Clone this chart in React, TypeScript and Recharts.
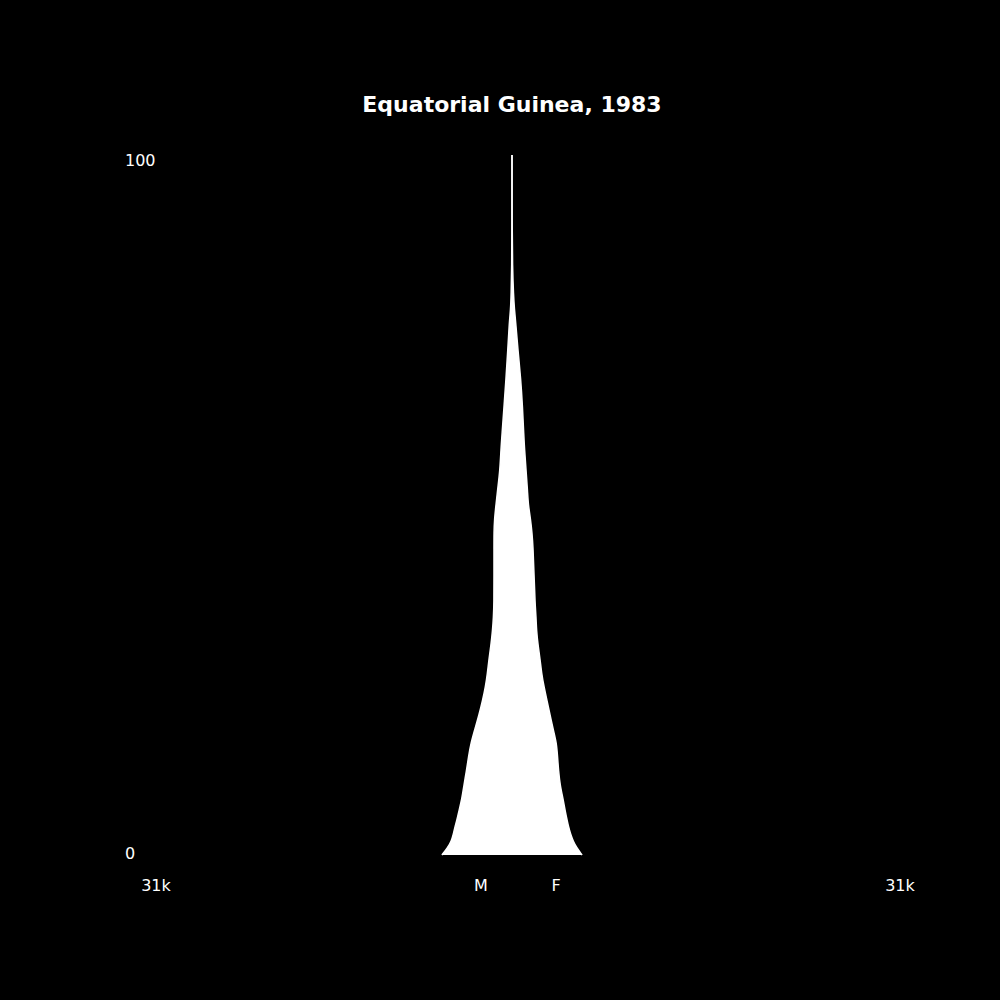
import { ComposedChart, Area, XAxis, YAxis, Customized } from "recharts";

const title = "Equatorial Guinea, 1983";

// age in years, population counts
const ages = [0, 1, 2, 3, 4, 5, 6, 8, 10, 12, 14, 16, 18, 20, 22, 24, 26, 28, 30, 32, 34, 36, 40, 44, 46, 48, 50, 52, 55, 58, 60, 64, 68, 72, 76, 78, 80, 84, 90, 100];
const male = [5600, 5150, 4840, 4680, 4560, 4400, 4280, 4000, 3840, 3640, 3480, 3280, 2960, 2640, 2360, 2120, 1960, 1840, 1680, 1560, 1480, 1440, 1440, 1440, 1440, 1400, 1280, 1160, 960, 880, 800, 640, 480, 340, 220, 110, 70, 20, 5, 0];
const female = [5600, 5180, 4880, 4680, 4520, 4400, 4280, 4080, 3840, 3720, 3640, 3560, 3280, 3040, 2800, 2560, 2360, 2240, 2080, 1960, 1920, 1840, 1760, 1680, 1600, 1480, 1300, 1240, 1120, 1000, 940, 840, 700, 480, 300, 190, 120, 40, 8, 0];

const xMax = 31000;
const xTicks = [-31000, -2480, 3520, 31000];
const xTickLabels = ["31k", "M", "F", "31k"];
const yTicks = [0, 100];

const data = ages.map((age, i) => ({ age, range: [-male[i], female[i]] }));

const font = "'DejaVu Sans', sans-serif";

function XTick(props: any) {
    const { x, payload } = props;
    const idx = xTicks.indexOf(payload.value);
    const shift = idx === 0 ? 32 : 0; // left label sits inside the edge
    return (
        <text x={x + shift} y={891} textAnchor="middle" fill="#fff" fontSize={16} fontFamily={font}>
            {xTickLabels[idx]}
        </text>
    );
}

function YTick(props: any) {
    const { y, payload } = props;
    const dy = payload.value === 100 ? 11 : 4;
    return (
        <text x={125} y={y + dy} textAnchor="start" fill="#fff" fontSize={16} fontFamily={font}>
            {payload.value}
        </text>
    );
}

function Title() {
    return (
        <text x={512} y={112} textAnchor="middle" fill="#fff" fontSize={22} fontWeight="bold" fontFamily={font}>
            {title}
        </text>
    );
}

export default function App() {
    return (
        <div style={{ width: 1000, height: 1000, background: "#000" }}>
            <style>{`body{margin:0;background:#000}`}</style>
            <ComposedChart
                width={1000}
                height={1000}
                data={data}
                layout="vertical"
                margin={{ top: 155, right: 100, bottom: 115, left: 100 }}
            >
                <XAxis
                    type="number"
                    domain={[-xMax, xMax]}
                    ticks={xTicks}
                    tick={<XTick />}
                    axisLine={false}
                    tickLine={false}
                    height={30}
                    interval={0}
                    allowDataOverflow
                />
                <YAxis
                    type="number"
                    dataKey="age"
                    domain={[0, 100]}
                    ticks={yTicks}
                    tick={<YTick />}
                    axisLine={false}
                    tickLine={false}
                    width={24}
                    interval={0}
                    reversed
                />
                <Area
                    dataKey="range"
                    type="basis"
                    fill="#fff"
                    fillOpacity={1}
                    stroke="#fff"
                    strokeWidth={1.5}
                    isAnimationActive={false}
                />
                <Customized component={Title} />
            </ComposedChart>
        </div>
    );
}
